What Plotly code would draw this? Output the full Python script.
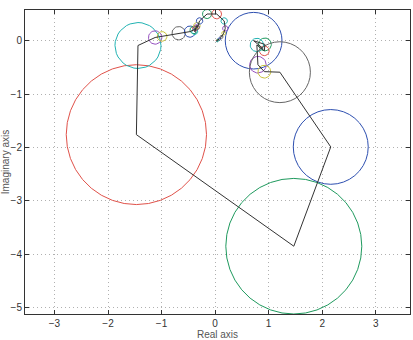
import numpy as np
import plotly.graph_objects as go

# path vertices (complex plane), in drawing order
path_x = [0.90, 0.72, 0.93, 0.92, 0.78, 0.80, 0.92, 1.21, 2.16, 1.47, -1.47, -1.44, -1.12, -0.99, -0.68,
          -0.47, -0.40, -0.37, -0.38, -0.35, -0.34, -0.33, -0.29, -0.15, 0.03, 0.17, 0.19, 0.16, 0.12,
          0.08, 0.05, 0.03, 0.04]
path_y = [-0.15, 0.00, -0.07, -0.19, -0.08, -0.45, -0.58, -0.59, -1.99, -3.85, -1.76, -0.09, 0.06, 0.08, 0.14,
          0.17, 0.20, 0.23, 0.17, 0.25, 0.28, 0.25, 0.37, 0.50, 0.50, 0.37, 0.23, 0.14, 0.07,
          0.03, 0.01, 0.00, -0.01]
# circle radii, one per vertex after the first
circle_r = [0.53, 0.12, 0.09, 0.125, 0.155, 0.12, 0.57, 0.70, 1.27, 1.31, 0.43, 0.125, 0.09, 0.125,
            0.105, 0.07, 0.05, 0.055, 0.05, 0.06, 0.04, 0.06, 0.085, 0.09, 0.06, 0.05, 0.035, 0.03,
            0.025, 0.02, 0.015, 0.015]
color_cycle = ['#2d4fb0', '#1f9a5e', '#e0524a', '#22b3b3', '#9550c0', '#c8c23a', '#666666']

x_ticks = [-3, -2, -1, 0, 1, 2, 3]
y_ticks = [-5, -4, -3, -2, -1, 0]

fig = go.Figure()
t = np.linspace(0, 2 * np.pi, 37)
for i, r in enumerate(circle_r):
    cx, cy = path_x[i + 1], path_y[i + 1]
    fig.add_trace(go.Scatter(x=cx + r * np.cos(t), y=cy + r * np.sin(t), mode='lines',
                             line=dict(color=color_cycle[i % 7], width=1), hoverinfo='skip',
                             showlegend=False))
fig.add_trace(go.Scatter(x=path_x, y=path_y, mode='lines', line=dict(color='#333333', width=1),
                         showlegend=False))

font_family = 'Liberation Sans, Arial, sans-serif'
axis_common = dict(showline=True, linecolor='#333333', linewidth=1, mirror='ticks', ticks='inside',
                   ticklen=4, tickcolor='#333333', showgrid=True, gridcolor='#b0b0b0', griddash='1px,3px',
                   gridwidth=1, zeroline=False, tickfont=dict(size=10, color='#333333', family=font_family))
fig.update_xaxes(range=[-3.55, 3.64], tickvals=x_ticks, title=dict(text='Real axis', standoff=2,
                 font=dict(size=10, color='#555555', family=font_family)), **axis_common)
fig.update_yaxes(range=[-5.12, 0.575], tickvals=y_ticks, title=dict(text='Imaginary axis', standoff=2,
                 font=dict(size=10, color='#555555', family=font_family)), **axis_common)
fig.update_layout(width=413, height=340, margin=dict(l=24, r=2, t=10, b=25),
                  plot_bgcolor='white', paper_bgcolor='white')
fig.write_html("out.html")
